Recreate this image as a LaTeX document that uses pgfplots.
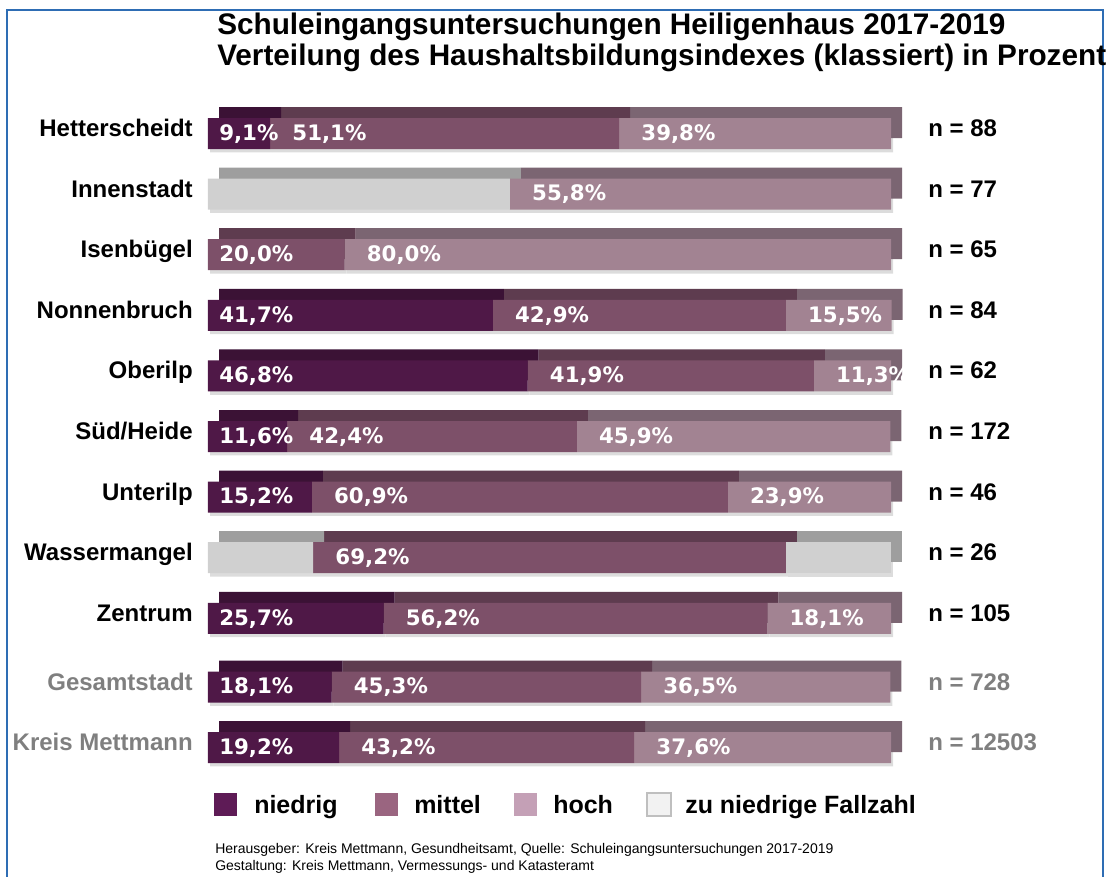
\documentclass[border=0pt]{standalone}
\usepackage{fontspec}
\setmainfont{Liberation Sans}
\newfontfamily\valfont{DejaVu Sans}
\usepackage{pgfplots}
\pgfplotsset{compat=1.18}
\usepackage{pgfplotstable}

\definecolor{nF}{HTML}{4F1847}
\definecolor{nT}{HTML}{3B1235}
\definecolor{mF}{HTML}{7D5069}
\definecolor{mT}{HTML}{5E3C4F}
\definecolor{hF}{HTML}{A28392}
\definecolor{hT}{HTML}{7B6572}
\definecolor{gF}{HTML}{D0D0D0}
\definecolor{gT}{HTML}{9E9E9E}
\definecolor{nL}{HTML}{5E1B56}
\definecolor{mL}{HTML}{9A6580}
\definecolor{hL}{HTML}{C4A0B6}
\definecolor{gL}{HTML}{F2F2F2}
\definecolor{frameblue}{HTML}{2E6DB4}
\definecolor{lbgray}{HTML}{7F7F7F}
\definecolor{shadow}{HTML}{DCDCDC}

% y = row position (pixel rows of the picture), values in percent
\pgfplotstableread{
y     g1    n     m     h     g2
133.5 0     9.1   51.1  39.8  0
194.1 44.2  0     0     55.8  0
254.7 0     0     20.0  80.0  0
315.3 0     41.7  42.9  15.5  0
375.9 0     46.8  41.9  11.3  0
436.5 0     11.6  42.4  45.9  0
497.1 0     15.2  60.9  23.9  0
557.7 15.4  0     69.2  0     15.4
618.3 0     25.7  56.2  18.1  0
687.0 0     18.1  45.3  36.5  0
747.5 0     19.2  43.2  37.6  0
}\datatable

\pgfplotsset{
  barax/.style={
    scale only axis, width=512.25pt, height=506.25pt,
    xmin=0, xmax=100, ymin=95, ymax=770, y dir=reverse,
    xbar stacked, bar width=23.25pt,
    axis line style={draw=none}, tick style={draw=none},
    xtick=\empty, clip=false, anchor=south west,
  },
}
\tikzset{
  vl/.style={font=\valfont\bfseries\fontsize{16}{17}\selectfont, text=white,
    inner sep=0pt, anchor=base west, yshift=-5.1pt},
  fs/.style={vl, xshift=8.25pt},
  ns/.style={vl, xshift=16.5pt},
  nl/.style={font=\bfseries\fontsize{18}{20}\selectfont, inner sep=0pt,
    anchor=base west, xshift=27.75pt, yshift=-2.25pt},
}

\begin{document}
\begin{tikzpicture}
\clip (0,0) rectangle (831pt,-657pt);

% soft shadow below the bars
\begin{axis}[barax, at={(157.5pt,-580pt)}, ytick=\empty]
\addplot[fill=shadow, draw=none] table[x=g1,y=y]{\datatable};
\addplot[fill=shadow, draw=none] table[x=n,y=y]{\datatable};
\addplot[fill=shadow, draw=none] table[x=m,y=y]{\datatable};
\addplot[fill=shadow, draw=none] table[x=h,y=y]{\datatable};
\addplot[fill=shadow, draw=none] table[x=g2,y=y]{\datatable};
\end{axis}

% back faces (3D top and side), shifted right and up
\begin{axis}[barax, at={(164.25pt,-569.25pt)}, ytick=\empty]
\addplot[fill=gT, draw=none] table[x=g1,y=y]{\datatable};
\addplot[fill=nT, draw=none] table[x=n,y=y]{\datatable};
\addplot[fill=mT, draw=none] table[x=m,y=y]{\datatable};
\addplot[fill=hT, draw=none] table[x=h,y=y]{\datatable};
\addplot[fill=gT, draw=none] table[x=g2,y=y]{\datatable};
\end{axis}

% front faces
\begin{axis}[barax, at={(156pt,-577.5pt)},
  ytick={133.5,194.1,254.7,315.3,375.9,436.5,497.1,557.7,618.3,687,747.5},
  yticklabels={Hetterscheidt,Innenstadt,Isenbügel,Nonnenbruch,Oberilp,Süd/Heide,Unterilp,Wassermangel,Zentrum,{\color{lbgray}Gesamtstadt},{\color{lbgray}Kreis Mettmann}},
  yticklabel style={font=\bfseries\fontsize{18}{20}\selectfont, anchor=base east,
    inner sep=0pt, xshift=-11.25pt, yshift=-2.25pt},
]
\addplot[fill=gF, draw=none] table[x=g1,y=y]{\datatable};
\addplot[fill=nF, draw=none] table[x=n,y=y]{\datatable};
\addplot[fill=mF, draw=none] table[x=m,y=y]{\datatable};
\addplot[fill=hF, draw=none] table[x=h,y=y]{\datatable};
\addplot[fill=gF, draw=none] table[x=g2,y=y]{\datatable};

\node[nl] at (axis cs:100,133.5) {n = 88};
\node[nl] at (axis cs:100,194.1) {n = 77};
\node[nl] at (axis cs:100,254.7) {n = 65};
\node[nl] at (axis cs:100,315.3) {n = 84};
\node[nl] at (axis cs:100,375.9) {n = 62};
\node[nl] at (axis cs:100,436.5) {n = 172};
\node[nl] at (axis cs:100,497.1) {n = 46};
\node[nl] at (axis cs:100,557.7) {n = 26};
\node[nl] at (axis cs:100,618.3) {n = 105};
\node[nl, text=lbgray] at (axis cs:100,687) {n = 728};
\node[nl, text=lbgray] at (axis cs:100,747.5) {n = 12503};
\end{axis}

% value labels on top of the bars
\begin{axis}[barax, at={(156pt,-577.5pt)}, ytick=\empty]
\node[fs] at (axis cs:0,133.5) {9,1\%};
\node[ns] at (axis cs:9.1,133.5) {51,1\%};
\node[ns] at (axis cs:60.2,133.5) {39,8\%};
\node[ns] at (axis cs:44.2,194.1) {55,8\%};
\node[fs] at (axis cs:0,254.7) {20,0\%};
\node[ns] at (axis cs:20,254.7) {80,0\%};
\node[fs] at (axis cs:0,315.3) {41,7\%};
\node[ns] at (axis cs:41.7,315.3) {42,9\%};
\node[ns] at (axis cs:84.6,315.3) {15,5\%};
\node[fs] at (axis cs:0,375.9) {46,8\%};
\node[ns] at (axis cs:46.8,375.9) {41,9\%};
\node[ns] at (axis cs:88.7,375.9) {11,3\%};
\node[fs] at (axis cs:0,436.5) {11,6\%};
\node[ns] at (axis cs:11.6,436.5) {42,4\%};
\node[ns] at (axis cs:54.0,436.5) {45,9\%};
\node[fs] at (axis cs:0,497.1) {15,2\%};
\node[ns] at (axis cs:15.2,497.1) {60,9\%};
\node[ns] at (axis cs:76.1,497.1) {23,9\%};
\node[ns] at (axis cs:15.4,557.7) {69,2\%};
\node[fs] at (axis cs:0,618.3) {25,7\%};
\node[ns] at (axis cs:25.7,618.3) {56,2\%};
\node[ns] at (axis cs:81.9,618.3) {18,1\%};
\node[fs] at (axis cs:0,687) {18,1\%};
\node[ns] at (axis cs:18.1,687) {45,3\%};
\node[ns] at (axis cs:63.4,687) {36,5\%};
\node[fs] at (axis cs:0,747.5) {19,2\%};
\node[ns] at (axis cs:19.2,747.5) {43,2\%};
\node[ns] at (axis cs:62.4,747.5) {37,6\%};
\end{axis}

\begin{scope}[x=0.75pt, y=-0.75pt]
% frame
\draw[frameblue, line width=1.5pt] (7,900) -- (7,10) -- (1103,10) -- (1103,900);
% title
\node[anchor=base west, inner sep=0pt, font=\bfseries\fontsize{22.3}{26}\selectfont] at (217,34)
  {Schuleingangsuntersuchungen Heiligenhaus 2017-2019};
\node[anchor=base west, inner sep=0pt, font=\bfseries\fontsize{22.3}{26}\selectfont] at (217,65)
  {Verteilung des Haushaltsbildungsindexes (klassiert) in Prozent};
% legend
\fill[nL] (214,793) rectangle (237,816);
\node[anchor=base west, inner sep=0pt, font=\bfseries\fontsize{18.75}{20}\selectfont] at (254,813) {niedrig};
\fill[mL] (375,793) rectangle (398,816);
\node[anchor=base west, inner sep=0pt, font=\bfseries\fontsize{18.75}{20}\selectfont] at (414,813) {mittel};
\fill[hL] (514,793) rectangle (537,816);
\node[anchor=base west, inner sep=0pt, font=\bfseries\fontsize{18.75}{20}\selectfont] at (553,813) {hoch};
\filldraw[fill=gL, draw=black!25, line width=0.8pt] (647,793) rectangle (671,816);
\node[anchor=base west, inner sep=0pt, font=\bfseries\fontsize{18.75}{20}\selectfont] at (685,813) {zu niedrige Fallzahl};
% footnote
\node[anchor=base west, inner sep=0pt, font=\fontsize{10.5}{12}\selectfont] at (215,853)
  {Herausgeber: Kreis Mettmann, Gesundheitsamt, Quelle: Schuleingangsuntersuchungen 2017-2019};
\node[anchor=base west, inner sep=0pt, font=\fontsize{10.5}{12}\selectfont] at (215,870)
  {Gestaltung: Kreis Mettmann, Vermessungs- und Katasteramt};
\end{scope}
\end{tikzpicture}
\end{document}
